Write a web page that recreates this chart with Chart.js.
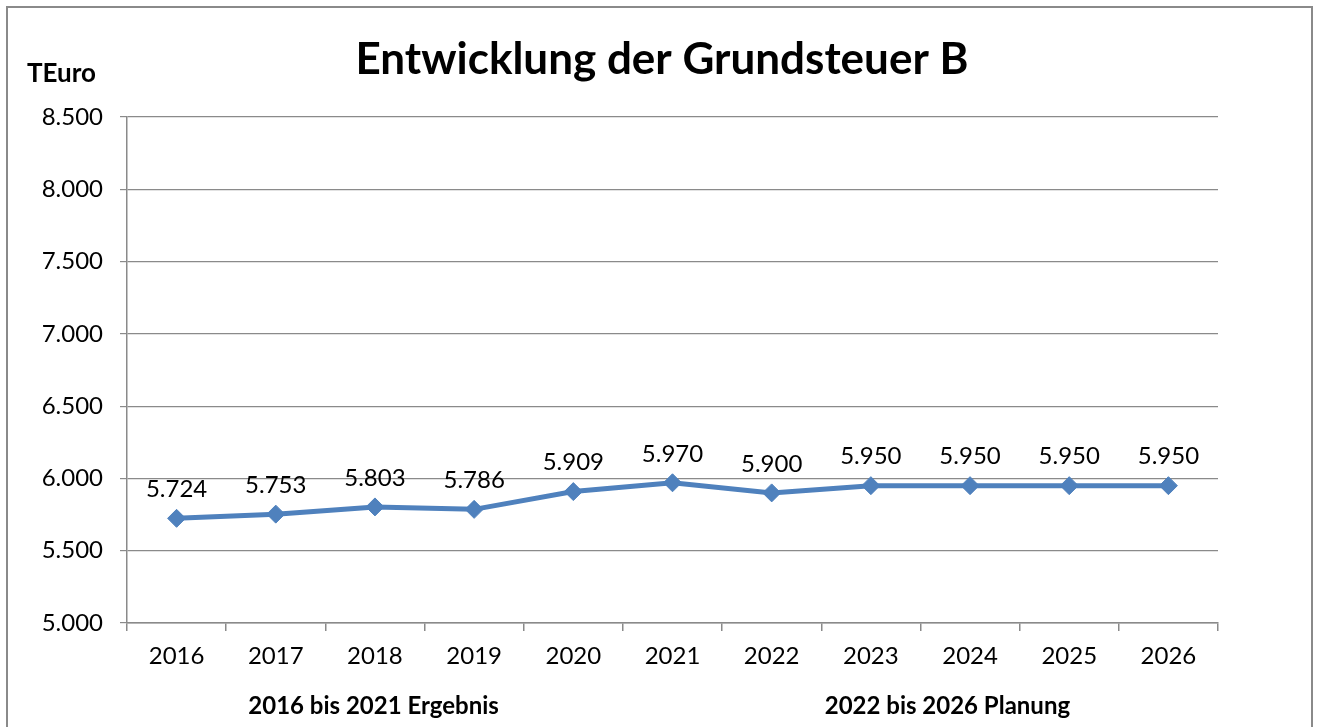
<!DOCTYPE html>
<html><head><meta charset="utf-8">
<script src="https://cdn.jsdelivr.net/npm/chart.js@4/dist/chart.umd.min.js"></script>
<style>
html,body{margin:0;padding:0;background:#fff;overflow:hidden;}
#wrap{position:absolute;left:0;top:0;width:1318px;height:727px;}
#frame{position:absolute;left:6px;top:6px;width:1307px;height:740px;border:2px solid #8a8a8a;box-sizing:border-box;pointer-events:none;}
canvas{position:absolute;left:0;top:0;}
</style></head>
<body>
<div id="wrap"><canvas id="c" width="1318" height="727"></canvas><div id="frame"></div></div>
<script>
const categories = ['2016','2017','2018','2019','2020','2021','2022','2023','2024','2025','2026'];
const values = [5724, 5753, 5803, 5786, 5909, 5970, 5900, 5950, 5950, 5950, 5950];
const yTicks = [5000, 5500, 6000, 6500, 7000, 7500, 8000, 8500];
const titleText = 'Entwicklung der Grundsteuer B';
const unitText = 'TEuro';
const groupLabels = ['2016 bis 2021 Ergebnis', '2022 bis 2026 Planung'];

const FONT = 'Lato';
function fmt(v){
  const s = String(Math.round(v));
  return s.replace(/\B(?=(\d{3})+(?!\d))/g, '.');
}

const extras = {
  id: 'extras',
  afterDatasetsDraw(chart){
    const ctx = chart.ctx;
    const meta = chart.getDatasetMeta(0);
    ctx.save();
    ctx.fillStyle = '#000';
    ctx.font = '24px ' + FONT;
    ctx.textAlign = 'center';
    ctx.textBaseline = 'middle';
    meta.data.forEach((pt, i) => {
      ctx.fillText(fmt(values[i]), pt.x, pt.y - 29);
    });
    ctx.restore();
  },
  afterDraw(chart){
    const ctx = chart.ctx;
    const a = chart.chartArea;
    ctx.save();
    ctx.fillStyle = '#000';
    ctx.textBaseline = 'middle';
    ctx.textAlign = 'center';
    ctx.font = 'bold 44px ' + FONT;
    ctx.fillText(titleText, 662, 60);
    ctx.textAlign = 'left';
    ctx.font = 'bold 26px ' + FONT;
    ctx.fillText(unitText, 27, 74);
    ctx.textAlign = 'center';
    ctx.font = 'bold 24px ' + FONT;
    ctx.fillText(groupLabels[0], a.left + (a.right - a.left) * 0.226, 706);
    ctx.fillText(groupLabels[1], a.left + (a.right - a.left) * 0.752, 706);
    ctx.restore();
  }
};

new Chart(document.getElementById('c'), {
  type: 'line',
  data: {
    labels: categories,
    datasets: [{
      data: values,
      borderColor: '#4F81BD',
      backgroundColor: '#4F81BD',
      borderWidth: 5,
      pointStyle: 'rectRot',
      pointRadius: 9,
      pointHoverRadius: 9,
      pointBackgroundColor: '#4F81BD',
      pointBorderColor: '#4F81BD',
      pointBorderWidth: 1,
      tension: 0,
      fill: false
    }]
  },
  options: {
    responsive: false,
    animation: false,
    devicePixelRatio: 1,
    events: [],
    layout: { padding: { left: 0, top: 117, right: 100, bottom: 0 } },
    plugins: { legend: { display: false }, title: { display: false }, tooltip: { enabled: false } },
    scales: {
      x: {
        type: 'category',
        offset: true,
        grid: { display: true, drawOnChartArea: false, drawTicks: true, tickLength: 8, offset: true, color: '#8a8a8a', lineWidth: 1.5 },
        border: { display: true, color: '#8a8a8a', width: 1.5 },
        ticks: { color: '#000', font: { family: FONT, size: 24 }, padding: 11, maxRotation: 0, autoSkip: false },
        afterFit(scale){ scale.height = 727 - 623; }
      },
      y: {
        min: 5000, max: 8500,
        afterBuildTicks(scale){ scale.ticks = yTicks.map(v => ({ value: v })); },
        grid: { color: '#8a8a8a', lineWidth: 1.2, drawTicks: true, tickLength: 7 },
        border: { display: true, color: '#8a8a8a', width: 1.5 },
        ticks: { color: '#000', font: { family: FONT, size: 24 }, padding: 17, callback: v => fmt(v) },
        afterFit(scale){ scale.width = 127; }
      }
    }
  },
  plugins: [extras]
});
</script>
</body></html>
